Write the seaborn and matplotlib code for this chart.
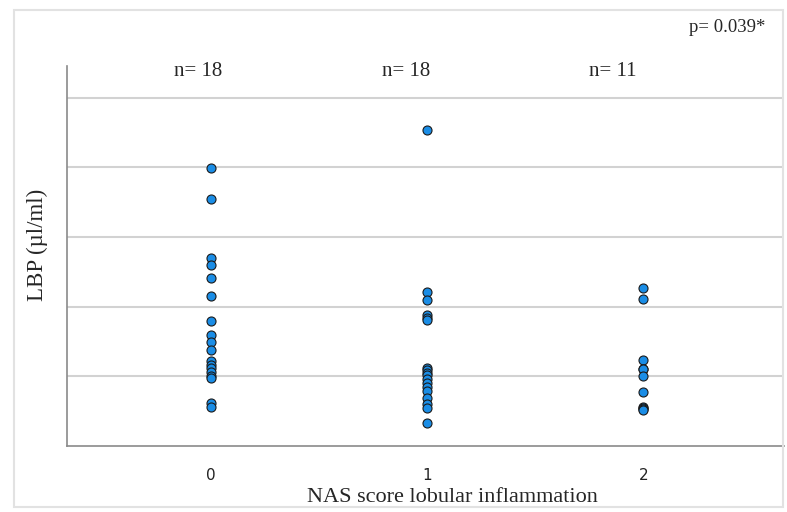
import pandas as pd
import matplotlib.pyplot as plt
import seaborn as sns
from matplotlib.patches import Rectangle

# LBP values, grouped by lobular inflammation score
lbp_score0 = [39.9, 35.4, 26.9, 26.0, 24.1, 21.5, 17.9, 15.9, 14.9, 13.8,
              12.2, 11.6, 11.2, 10.6, 10.0, 9.7, 6.1, 5.6]
lbp_score1 = [45.3, 22.1, 21.0, 18.8, 18.3, 18.0, 11.2, 10.9, 10.4, 10.2,
              9.6, 9.0, 8.4, 7.9, 6.9, 6.0, 5.4, 3.3]
lbp_score2 = [22.7, 21.1, 12.3, 11.0, 11.0, 10.0, 7.7, 5.6, 5.4, 5.3, 5.1]
scores = ["0", "1", "2"]
n_labels = ["n= 18", "n= 18", "n= 11"]
p_label = "p= 0.039*"

df = pd.DataFrame({
    "score": ["0"] * len(lbp_score0) + ["1"] * len(lbp_score1) + ["2"] * len(lbp_score2),
    "lbp": lbp_score0 + lbp_score1 + lbp_score2,
})

sns.set_style("white")
serif = ["Liberation Serif", "DejaVu Serif"]

fig = plt.figure(figsize=(7.87, 5.12), dpi=100)
ax = fig.add_axes([67 / 787, 1 - 445.7 / 512, 717 / 787, 380 / 512])

sns.stripplot(data=df, x="score", y="lbp", order=scores, jitter=False,
              color="#1a8de6", edgecolor="#1a1a1a", linewidth=0.8, size=6.5,
              zorder=3, ax=ax)

ax.set_xlim(-0.667, 2.65)
ax.set_ylim(0, 54.6)
ax.set_yticks([10, 20, 30, 40, 50])
ax.yaxis.grid(True, color="#d2d2d2", linewidth=1.5)
ax.set_yticklabels([])
ax.tick_params(axis="both", length=0)
ax.tick_params(axis="x", labelsize=11, colors="#222222", pad=16)

for side in ["top", "right"]:
    ax.spines[side].set_visible(False)
for side in ["left", "bottom"]:
    ax.spines[side].set_color("#8a8a8a")
    ax.spines[side].set_linewidth(1.2)

ax.set_xlabel("NAS score lobular inflammation", family=serif, fontsize=16, va="center")
ax.xaxis.set_label_coords((452 - 67) / 717, (445.7 - 497) / 380)
ax.set_ylabel("LBP (µl/ml)", family=serif, fontsize=16.5, va="center")
ax.yaxis.set_label_coords((37 - 67) / 717, (445.7 - 245) / 380)

# sample sizes above each group
for i, lab in enumerate(n_labels):
    ax.text(i - 0.06 - 0.04 * i, 53.7, lab, family=serif, fontsize=15,
            ha="center", va="center")

fig.text(765 / 787, 1 - 27 / 512, p_label, family=serif, fontsize=13.5,
         ha="right", va="center")

# light frame round the whole figure
fig.patches.append(Rectangle((14 / 787, 1 - 507 / 512), 769 / 787, 497 / 512,
                             transform=fig.transFigure, fill=False,
                             edgecolor="#e2e2e2", linewidth=1.5))

fig.savefig("out.png", dpi=100)
